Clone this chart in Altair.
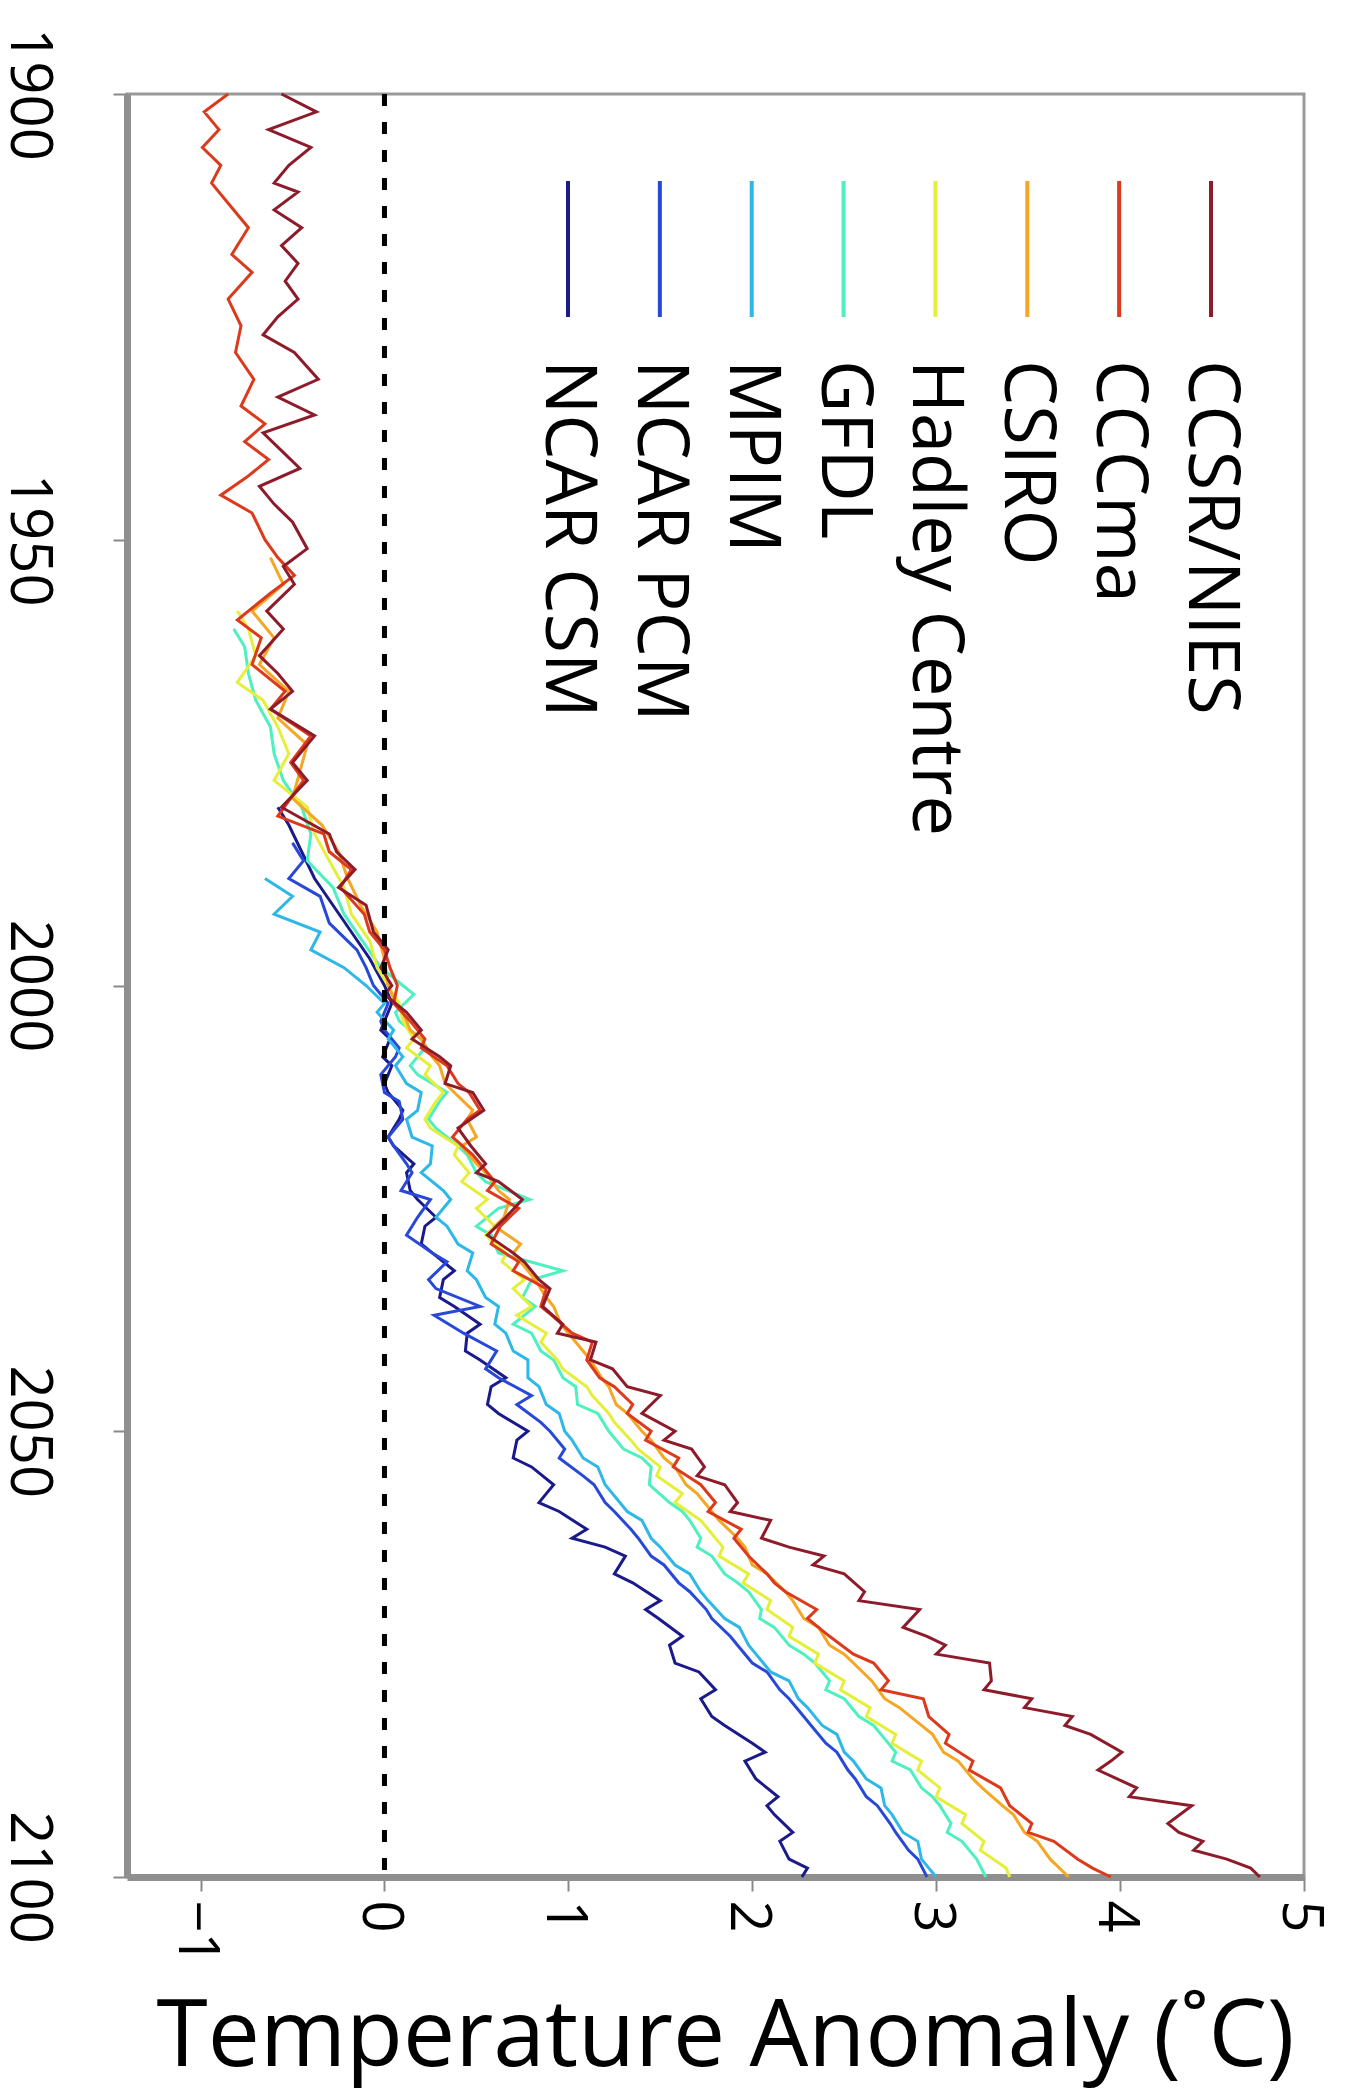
import altair as alt
import pandas as pd

MODELS = ["CCSR/NIES", "CCCma", "CSIRO", "Hadley Centre", "GFDL", "MPIM", "NCAR PCM", "NCAR CSM"]
COLORS = ["#8E1B2A", "#DC3A1C", "#F5A623", "#E5EF3A", "#4EF0C0", "#2DB8E8", "#2848D8", "#1A1A8A"]
YEAR_TICKS = [1900, 1950, 2000, 2050, 2100]
TEMP_TICKS = [-1, 0, 1, 2, 3, 4, 5]

CCSR_NIES = [
    (1900, -0.56), (1902, -0.37), (1904, -0.63), (1906, -0.40), (1908, -0.52), (1910, -0.60),
    (1911, -0.47), (1913, -0.60), (1915, -0.45), (1917, -0.56), (1919, -0.47), (1921, -0.54),
    (1923, -0.47), (1925, -0.58), (1927, -0.66), (1929, -0.49), (1932, -0.36), (1934, -0.58),
    (1936, -0.38), (1938, -0.66), (1940, -0.56), (1942, -0.46), (1944, -0.68), (1946, -0.60),
    (1948, -0.50), (1951, -0.42), (1953, -0.55), (1955, -0.49), (1958, -0.64), (1960, -0.55),
    (1963, -0.68), (1965, -0.58), (1967, -0.50), (1969, -0.62), (1972, -0.38), (1975, -0.50),
    (1977, -0.42), (1980, -0.56), (1983, -0.30), (1985, -0.26), (1987, -0.16), (1989, -0.25),
    (1991, -0.10), (1994, -0.06), (1996, 0.02), (1998, -0.02),
    (2000, 0.04), (2001, 0.00), (2003, 0.12), (2005, 0.20), (2006, 0.15), (2008, 0.30),
    (2009, 0.36), (2011, 0.33), (2012, 0.48), (2014, 0.54), (2016, 0.40), (2018, 0.47),
    (2020, 0.55), (2021, 0.50), (2022, 0.62), (2024, 0.75), (2026, 0.66), (2028, 0.56),
    (2030, 0.70), (2031, 0.76), (2033, 0.84), (2034, 0.90), (2036, 0.86), (2038, 0.97),
    (2039, 0.94), (2040, 1.15), (2042, 1.12), (2043, 1.24), (2045, 1.32), (2046, 1.50),
    (2048, 1.40), (2050, 1.58), (2051, 1.52), (2052, 1.67), (2054, 1.74), (2055, 1.70),
    (2056, 1.85), (2058, 1.92), (2059, 1.88), (2060, 2.10), (2062, 2.05), (2063, 2.20),
    (2064, 2.39), (2065, 2.33), (2066, 2.50), (2068, 2.61), (2069, 2.58), (2070, 2.91),
    (2072, 2.82), (2073, 2.95), (2074, 3.05), (2075, 3.00), (2076, 3.29), (2078, 3.30),
    (2079, 3.26), (2080, 3.52), (2081, 3.48), (2082, 3.74), (2083, 3.70), (2084, 3.84),
    (2086, 4.01), (2087, 3.95), (2088, 3.88), (2090, 4.09), (2091, 4.05), (2092, 4.39),
    (2094, 4.26), (2095, 4.32), (2096, 4.45), (2097, 4.40), (2098, 4.58), (2099, 4.71),
    (2100, 4.76),
]

CCCMA = [
    (1900, -0.85), (1902, -0.98), (1904, -0.90), (1906, -0.99), (1908, -0.89), (1910, -0.94),
    (1912, -0.86), (1915, -0.74), (1918, -0.83), (1920, -0.72), (1923, -0.85), (1926, -0.78),
    (1929, -0.81), (1932, -0.71), (1935, -0.78), (1937, -0.65), (1939, -0.76), (1941, -0.63),
    (1943, -0.75), (1945, -0.89), (1947, -0.72), (1950, -0.65), (1952, -0.58), (1954, -0.49),
    (1956, -0.62), (1959, -0.80), (1961, -0.67), (1964, -0.72), (1967, -0.54), (1969, -0.62),
    (1972, -0.40), (1975, -0.51), (1977, -0.44), (1981, -0.58), (1983, -0.33), (1985, -0.30),
    (1987, -0.18), (1989, -0.24), (1992, -0.11), (1994, -0.08), (1996, 0.00), (1998, 0.03),
    (2000, 0.07), (2002, 0.05), (2004, 0.14), (2006, 0.22), (2007, 0.20), (2009, 0.34),
    (2011, 0.40), (2012, 0.46), (2014, 0.52), (2015, 0.45), (2017, 0.37), (2019, 0.48),
    (2020, 0.52), (2022, 0.60), (2023, 0.56), (2025, 0.73), (2027, 0.63), (2029, 0.58),
    (2031, 0.73), (2032, 0.70), (2034, 0.88), (2036, 0.85), (2037, 0.91), (2039, 1.02),
    (2040, 1.13), (2042, 1.10), (2044, 1.17), (2045, 1.25), (2047, 1.35), (2048, 1.32),
    (2050, 1.45), (2051, 1.42), (2053, 1.60), (2054, 1.57), (2056, 1.72), (2058, 1.80),
    (2059, 1.76), (2061, 1.94), (2062, 1.90), (2064, 1.98), (2066, 2.08), (2067, 2.12),
    (2068, 2.18), (2070, 2.35), (2071, 2.30), (2073, 2.42), (2075, 2.55), (2076, 2.66),
    (2078, 2.74), (2079, 2.70), (2080, 2.93), (2082, 2.96), (2084, 3.07), (2085, 3.05),
    (2087, 3.20), (2088, 3.18), (2090, 3.35), (2092, 3.40), (2094, 3.52), (2095, 3.50),
    (2096, 3.64), (2098, 3.77), (2099, 3.85), (2100, 3.95),
]

CSIRO = [
    (1952, -0.62), (1955, -0.55), (1958, -0.72), (1961, -0.60), (1964, -0.68), (1967, -0.52),
    (1970, -0.58), (1973, -0.42), (1976, -0.46), (1979, -0.50), (1982, -0.34), (1985, -0.25),
    (1988, -0.20), (1991, -0.13), (1994, -0.04), (1997, 0.00),
    (2000, 0.02), (2002, 0.06), (2003, 0.10), (2005, 0.14), (2006, 0.20), (2008, 0.26),
    (2009, 0.30), (2011, 0.33), (2012, 0.38), (2014, 0.48), (2015, 0.45), (2017, 0.50),
    (2018, 0.42), (2020, 0.50), (2021, 0.55), (2023, 0.62), (2024, 0.68), (2026, 0.65),
    (2027, 0.60), (2029, 0.74), (2030, 0.70), (2032, 0.78), (2033, 0.82), (2035, 0.88),
    (2036, 0.92), (2038, 0.96), (2039, 1.00), (2041, 1.08), (2042, 1.12), (2044, 1.18),
    (2045, 1.22), (2047, 1.26), (2048, 1.32), (2050, 1.40), (2051, 1.45), (2053, 1.52),
    (2054, 1.58), (2056, 1.64), (2057, 1.70), (2059, 1.78), (2060, 1.82), (2062, 1.92),
    (2063, 1.96), (2065, 2.00), (2066, 2.08), (2068, 2.18), (2069, 2.22), (2071, 2.28),
    (2072, 2.36), (2074, 2.42), (2075, 2.50), (2077, 2.60), (2078, 2.65), (2080, 2.72),
    (2081, 2.80), (2083, 2.92), (2084, 2.98), (2086, 3.04), (2087, 3.12), (2089, 3.20),
    (2090, 3.25), (2092, 3.36), (2093, 3.42), (2095, 3.48), (2096, 3.55), (2098, 3.62),
    (2100, 3.72),
]

HADLEY = [
    (1958, -0.80), (1960, -0.74), (1963, -0.70), (1966, -0.80), (1968, -0.66), (1971, -0.58),
    (1974, -0.52), (1977, -0.60), (1980, -0.42), (1983, -0.38), (1986, -0.30), (1989, -0.22),
    (1992, -0.18), (1995, -0.08), (1998, -0.04),
    (2000, 0.02), (2002, 0.08), (2004, 0.10), (2006, 0.16), (2007, 0.12), (2009, 0.25),
    (2010, 0.22), (2012, 0.32), (2013, 0.28), (2015, 0.22), (2016, 0.25), (2018, 0.40),
    (2019, 0.38), (2021, 0.46), (2022, 0.42), (2024, 0.56), (2025, 0.50), (2027, 0.60),
    (2028, 0.55), (2030, 0.66), (2031, 0.64), (2033, 0.76), (2034, 0.70), (2036, 0.80),
    (2037, 0.72), (2039, 0.88), (2040, 0.85), (2042, 0.94), (2043, 0.97), (2045, 1.10),
    (2046, 1.13), (2048, 1.22), (2049, 1.25), (2051, 1.34), (2052, 1.38), (2054, 1.50),
    (2055, 1.48), (2057, 1.62), (2058, 1.58), (2060, 1.72), (2061, 1.76), (2063, 1.84),
    (2064, 1.82), (2066, 1.98), (2067, 1.95), (2069, 2.10), (2070, 2.08), (2072, 2.22),
    (2073, 2.20), (2075, 2.36), (2076, 2.34), (2078, 2.50), (2079, 2.48), (2081, 2.64),
    (2082, 2.62), (2084, 2.78), (2085, 2.76), (2087, 2.92), (2088, 2.90), (2090, 3.02),
    (2091, 3.00), (2093, 3.16), (2094, 3.14), (2096, 3.26), (2097, 3.24), (2099, 3.38),
    (2100, 3.40),
]

GFDL = [
    (1960, -0.82), (1962, -0.76), (1965, -0.74), (1968, -0.70), (1971, -0.62), (1974, -0.60),
    (1977, -0.55), (1980, -0.45), (1983, -0.40), (1986, -0.42), (1989, -0.28), (1992, -0.22),
    (1995, -0.12), (1998, -0.02),
    (2000, 0.10), (2001, 0.16), (2003, 0.06), (2004, 0.08), (2006, 0.20), (2007, 0.22),
    (2009, 0.14), (2010, 0.18), (2012, 0.34), (2013, 0.30), (2015, 0.24), (2016, 0.28),
    (2018, 0.40), (2019, 0.45), (2021, 0.50), (2022, 0.55), (2024, 0.79), (2025, 0.62),
    (2027, 0.50), (2028, 0.58), (2030, 0.62), (2032, 0.97), (2033, 0.80), (2035, 0.75),
    (2036, 0.82), (2038, 0.70), (2039, 0.80), (2041, 0.85), (2042, 0.92), (2044, 0.97),
    (2045, 1.04), (2047, 1.05), (2048, 1.16), (2050, 1.22), (2052, 1.30), (2053, 1.40),
    (2054, 1.45), (2056, 1.44), (2058, 1.55), (2059, 1.62), (2060, 1.66), (2062, 1.72),
    (2063, 1.70), (2064, 1.78), (2066, 1.85), (2067, 1.92), (2068, 1.98), (2070, 2.05),
    (2071, 2.04), (2072, 2.12), (2074, 2.20), (2075, 2.28), (2076, 2.34), (2078, 2.42),
    (2079, 2.40), (2080, 2.50), (2082, 2.58), (2083, 2.66), (2084, 2.70), (2086, 2.78),
    (2087, 2.76), (2088, 2.86), (2090, 2.92), (2091, 2.98), (2092, 3.02), (2094, 3.08),
    (2095, 3.06), (2096, 3.14), (2098, 3.22), (2100, 3.27),
]

MPIM = [
    (1988, -0.65), (1990, -0.50), (1992, -0.60), (1994, -0.35), (1996, -0.40), (1998, -0.22),
    (2000, -0.10), (2002, 0.00), (2003, -0.04), (2005, 0.05), (2006, 0.02), (2008, 0.10),
    (2009, 0.06), (2011, 0.12), (2012, 0.20), (2014, 0.18), (2015, 0.12), (2017, 0.15),
    (2018, 0.26), (2020, 0.25), (2021, 0.20), (2023, 0.32), (2024, 0.36), (2026, 0.28),
    (2027, 0.34), (2029, 0.40), (2030, 0.48), (2032, 0.45), (2033, 0.50), (2035, 0.55),
    (2036, 0.62), (2038, 0.60), (2039, 0.66), (2041, 0.70), (2042, 0.78), (2044, 0.78),
    (2045, 0.84), (2047, 0.88), (2048, 0.95), (2050, 0.98), (2051, 1.02), (2053, 1.08),
    (2054, 1.16), (2056, 1.20), (2057, 1.24), (2059, 1.32), (2060, 1.40), (2062, 1.45),
    (2063, 1.50), (2065, 1.58), (2066, 1.66), (2068, 1.72), (2069, 1.76), (2071, 1.85),
    (2072, 1.93), (2074, 1.98), (2075, 2.02), (2077, 2.10), (2078, 2.20), (2080, 2.25),
    (2081, 2.30), (2083, 2.38), (2084, 2.46), (2086, 2.50), (2087, 2.55), (2089, 2.62),
    (2090, 2.70), (2092, 2.72), (2093, 2.76), (2095, 2.82), (2096, 2.90), (2098, 2.92),
    (2099, 2.96), (2100, 3.00),
]

NCAR_PCM = [
    (1984, -0.50), (1986, -0.44), (1988, -0.52), (1990, -0.35), (1993, -0.30), (1996, -0.15),
    (1998, -0.10),
    (2000, -0.06), (2002, 0.02), (2004, -0.02), (2005, 0.00), (2007, 0.08), (2008, 0.06),
    (2010, -0.02), (2012, 0.00), (2013, 0.08), (2015, 0.10), (2017, 0.02), (2018, 0.05),
    (2020, 0.12), (2021, 0.15), (2023, 0.09), (2024, 0.25), (2026, 0.18), (2028, 0.12),
    (2030, 0.26), (2031, 0.34), (2033, 0.24), (2034, 0.28), (2036, 0.52), (2037, 0.27),
    (2039, 0.43), (2041, 0.61), (2043, 0.55), (2044, 0.62), (2046, 0.80), (2047, 0.72),
    (2049, 0.85), (2050, 0.90), (2052, 0.98), (2053, 0.95), (2055, 1.08), (2056, 1.14),
    (2058, 1.20), (2059, 1.25), (2061, 1.34), (2062, 1.38), (2064, 1.45), (2065, 1.52),
    (2067, 1.60), (2068, 1.66), (2070, 1.75), (2071, 1.78), (2073, 1.88), (2074, 1.92),
    (2076, 2.00), (2077, 2.08), (2079, 2.15), (2080, 2.20), (2082, 2.28), (2083, 2.32),
    (2085, 2.40), (2086, 2.46), (2088, 2.52), (2089, 2.56), (2091, 2.62), (2092, 2.68),
    (2094, 2.75), (2095, 2.78), (2097, 2.85), (2098, 2.90), (2100, 2.95),
]

NCAR_CSM = [
    (1980, -0.58), (1982, -0.52), (1985, -0.45), (1988, -0.38), (1991, -0.28), (1994, -0.18),
    (1997, -0.08),
    (2000, 0.00), (2002, 0.04), (2003, 0.02), (2005, -0.02), (2006, 0.03), (2008, -0.01),
    (2009, 0.04), (2011, 0.00), (2012, 0.02), (2014, 0.10), (2015, 0.08), (2017, 0.02),
    (2018, 0.05), (2020, 0.16), (2021, 0.12), (2023, 0.14), (2024, 0.18), (2026, 0.28),
    (2027, 0.22), (2029, 0.20), (2030, 0.26), (2032, 0.38), (2033, 0.32), (2035, 0.30),
    (2036, 0.38), (2038, 0.52), (2039, 0.45), (2041, 0.44), (2042, 0.52), (2044, 0.66),
    (2045, 0.58), (2047, 0.56), (2048, 0.62), (2050, 0.78), (2051, 0.72), (2053, 0.70),
    (2054, 0.80), (2056, 0.92), (2057, 0.88), (2058, 0.84), (2059, 0.95), (2061, 1.10),
    (2062, 1.02), (2063, 1.20), (2064, 1.31), (2066, 1.25), (2067, 1.35), (2069, 1.50),
    (2070, 1.42), (2071, 1.49), (2073, 1.62), (2074, 1.55), (2076, 1.58), (2077, 1.71),
    (2079, 1.80), (2080, 1.72), (2082, 1.78), (2083, 1.85), (2085, 2.00), (2086, 2.07),
    (2087, 1.96), (2089, 2.02), (2091, 2.14), (2092, 2.08), (2093, 2.12), (2095, 2.22),
    (2096, 2.15), (2098, 2.20), (2099, 2.30), (2100, 2.27),
]

SERIES = {
    "CCSR/NIES": CCSR_NIES, "CCCma": CCCMA, "CSIRO": CSIRO, "Hadley Centre": HADLEY,
    "GFDL": GFDL, "MPIM": MPIM, "NCAR PCM": NCAR_PCM, "NCAR CSM": NCAR_CSM,
}

rows = []
for m in reversed(MODELS):  # blues first so the reds are drawn on top
    for yr, v in SERIES[m]:
        rows.append({"model": m, "year": yr, "value": v})
df = pd.DataFrame(rows)

FONT = "Open Sans"

xscale = alt.Scale(domain=[-1.4, 5], nice=False, zero=False)
yscale = alt.Scale(domain=[1900, 2100], reverse=True, nice=False, zero=False)
cscale = alt.Scale(domain=MODELS, range=COLORS)

x_axis = alt.Axis(
    values=TEMP_TICKS, format="d", grid=False,
    labelAngle=90, labelAlign="left", labelBaseline="middle",
    labelFont=FONT, labelFontSize=56, labelColor="black", labelPadding=9,
    labelOffset=-5, labelFlush=False, labelOverlap=False,
    tickSize=14, tickWidth=2, tickColor="#888888",
    domainColor="#8f8f8f", domainWidth=7,
    title="Temperature Anomaly (\u02daC)", titleFont=FONT, titleFontSize=93,
    titleFontWeight="normal", titleColor="black",
    titleX=598, titleY=188, titleBaseline="alphabetic", titleAlign="center",
)
y_axis = alt.Axis(
    values=YEAR_TICKS, format="d", grid=False,
    labelAngle=90, labelAlign="center", labelBaseline="top",
    labelFont=FONT, labelFontSize=58, labelColor="black", labelPadding=57,
    labelFlush=False, labelOverlap=False,
    tickSize=14, tickWidth=2, tickColor="#888888",
    domainColor="#8f8f8f", domainWidth=7, title=None,
)

lines = alt.Chart(df).mark_line(strokeWidth=3).encode(
    x=alt.X("value:Q", scale=xscale, axis=x_axis),
    y=alt.Y("year:Q", scale=yscale, axis=y_axis),
    color=alt.Color("model:N", scale=cscale, legend=None),
    order=alt.Order("year:Q"),
)

zero = alt.Chart(pd.DataFrame({"value": [0]})).mark_rule(
    color="black", strokeWidth=5, strokeDash=[12, 16]
).encode(x=alt.X("value:Q", scale=xscale, axis=None))

leg_df = pd.DataFrame({"model": MODELS})
leg_x = alt.X(
    "model:N",
    scale=alt.Scale(type="point", domain=list(reversed(MODELS)), range=[441, 1084], padding=0),
    axis=None,
)
leg_lines = alt.Chart(leg_df).mark_rule(strokeWidth=4).encode(
    x=leg_x, y=alt.value(87), y2=alt.value(223),
    color=alt.Color("model:N", scale=cscale, legend=None),
)
leg_text = alt.Chart(leg_df).mark_text(
    angle=90, align="left", baseline="middle", font=FONT, fontSize=72, color="black"
).encode(x=leg_x, y=alt.value(266), text="model:N")

chart = (
    alt.layer(lines, zero, leg_lines, leg_text)
    .resolve_scale(x="independent")
    .properties(
        width=1177, height=1783,
        autosize=alt.AutoSizeParams(type="none"),
        padding={"left": 119, "top": 86, "right": 35, "bottom": 213},
    )
    .configure_view(stroke="#999999", strokeWidth=3)
)

chart.save("out.html", embed_options={"renderer": "svg", "actions": False})
